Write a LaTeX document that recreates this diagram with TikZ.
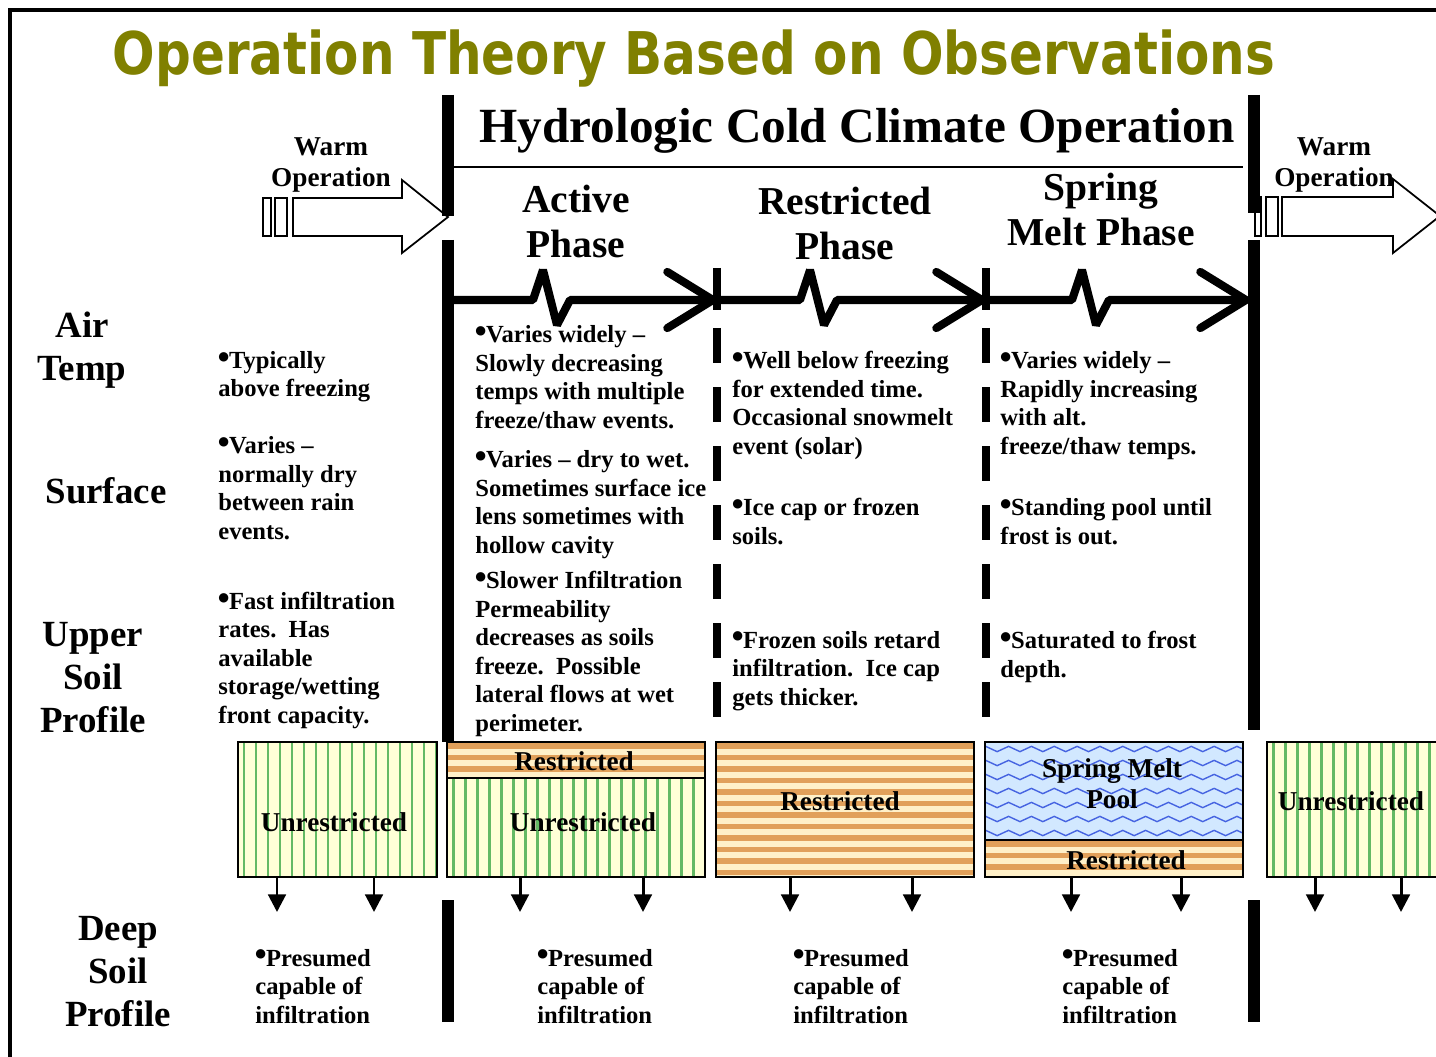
\documentclass[tikz,border=0pt]{standalone}
\usepackage{fontspec}
\setmainfont{Liberation Serif}
\newfontfamily\titlefont{DejaVu Sans}[FakeStretch=0.85]
\newfontfamily\symfont{DejaVu Sans}
\usetikzlibrary{arrows.meta,decorations.pathmorphing}

\definecolor{olivetitle}{RGB}{128,128,0}
\definecolor{soilyellow}{RGB}{255,255,215}
\definecolor{stripegreen}{RGB}{100,185,100}
\definecolor{soilcream}{RGB}{255,240,200}
\definecolor{soiltan}{RGB}{225,160,90}
\definecolor{poolblue}{RGB}{210,232,255}
\definecolor{waveblue}{RGB}{70,100,225}

\newcommand{\bul}{\raisebox{0.33em}{\symfont\fontsize{7}{7}\selectfont ●}}

% soil boxes: x1, y1, x2, y2 (pixels, y down)
\newcommand{\unrestrfill}[4]{%
  \fill[soilyellow] (#1,#2) rectangle (#3,#4);
  \begin{scope}
    \clip (#1,#2) rectangle (#3,#4);
    \foreach \sx in {6,18,...,300}
      \draw[stripegreen, line width=1.7pt] ({#1+\sx},#2) -- ({#1+\sx},#4);
  \end{scope}
  \draw[boxline] (#1,#2) rectangle (#3,#4);}
\newcommand{\restrfill}[4]{%
  \fill[soilcream] (#1,#2) rectangle (#3,#4);
  \begin{scope}
    \clip (#1,#2) rectangle (#3,#4);
    \foreach \sy in {4,15.5,...,200}
      \draw[soiltan, line width=3pt] (#1,{#2+\sy}) -- (#3,{#2+\sy});
  \end{scope}
  \draw[boxline] (#1,#2) rectangle (#3,#4);}
\newcommand{\poolfill}[4]{%
  \fill[poolblue] (#1,#2) rectangle (#3,#4);
  \begin{scope}
    \clip (#1,#2) rectangle (#3,#4);
    \foreach \sy in {7,21,...,120}
      \draw[waveblue, line width=0.8pt, decorate,
            decoration={zigzag, segment length=13pt, amplitude=1.5pt}]
        ({#1-5},{#2+\sy}) -- ({#3+5},{#2+\sy});
  \end{scope}
  \draw[boxline] (#1,#2) rectangle (#3,#4);}

\begin{document}
\begin{tikzpicture}[x=0.02cm, y=-0.02cm,
  phasebar/.style={line width=6.8pt},
  sepdash/.style={line width=4.6pt},
  phase/.style={line width=4.6pt, line join=bevel,
    -{Straight Barb[length=26pt, width=32pt, round]}},
  hollow/.style={draw, fill=white, line width=1pt},
  boxline/.style={draw, line width=1.2pt},
  drop/.style={line width=1.7pt, -{Triangle[length=10pt, width=10pt]}},
  celltext/.style={anchor=base west, align=left, inner sep=0pt,
    font=\fontsize{14}{16.2}\selectfont\bfseries},
  rowlabel/.style={anchor=base, align=center, inner sep=0pt,
    font=\fontsize{21}{24.2}\selectfont\bfseries},
  phasetitle/.style={anchor=base, align=center, inner sep=0pt,
    font=\fontsize{22.5}{26}\selectfont\bfseries},
  warmtext/.style={anchor=base, align=center, inner sep=0pt,
    font=\fontsize{15.5}{18.2}\selectfont\bfseries},
  boxtext/.style={anchor=base, align=center, inner sep=0pt,
    font=\fontsize{15.5}{17.6}\selectfont\bfseries}]
  \clip (0,0) rectangle (1436,1057);
  \fill[white] (0,0) rectangle (1436,1057);
  % frame
  \draw[line width=2.3pt] (10,1080) -- (10,10) -- (1460,10);
  % titles (multi-line nodes sit on the baseline of their last line)
  \node[anchor=base, inner sep=0pt, text=olivetitle,
    font=\titlefont\bfseries\fontsize{33.5}{36}\selectfont] (title) at (694,75)
    {Operation Theory Based on Observations};
  \node[anchor=base, inner sep=0pt, font=\fontsize{28}{32}\selectfont\bfseries]
    (hydro) at (857,143) {Hydrologic Cold Climate Operation};
  \draw[line width=1.3pt] (454,167) -- (1243,167);
  \node[phasetitle] (activeph) at (576,258) {Active\\Phase};
  \node[phasetitle] (restrph) at (845,260) {Restricted\\Phase};
  \node[phasetitle] (springph) at (1101,246) {Spring\\Melt Phase};
  % warm operation arrows
  \draw[hollow] (293,198) -- (402,198) -- (402,180) -- (448,217) -- (402,253)
    -- (402,236) -- (293,236) -- cycle;
  \draw[hollow] (263,198) rectangle (271,236);
  \draw[hollow] (275,198) rectangle (287,236);
  \draw[hollow] (1282,197) -- (1393,197) -- (1393,179) -- (1440,216) -- (1393,253)
    -- (1393,236) -- (1282,236) -- cycle;
  \draw[hollow] (1255,197) rectangle (1261,236);
  \draw[hollow] (1266,197) rectangle (1278,236);
  \node[warmtext] (warmin) at (331,187) {Warm\\Operation};
  \node[warmtext] (warmout) at (1334,187) {Warm\\Operation};
  % season bars
  \draw[phasebar] (448,95) -- (448,216);
  \draw[phasebar] (448,240) -- (448,742);
  \draw[phasebar] (448,900) -- (448,1022);
  \draw[phasebar] (1254,95) -- (1254,213);
  \draw[phasebar] (1254,240) -- (1254,730);
  \draw[phasebar] (1254,900) -- (1254,1022);
  % phase separators
  \foreach \sx in {717,986}{
    \draw[sepdash] (\sx,268) -- (\sx,310);
    \foreach \sy in {328,387,...,683}
      \draw[sepdash] (\sx,\sy) -- (\sx,{\sy+35});
  }
  % phase arrows
  \coordinate (t0) at (454,300);
  \coordinate (t1) at (717,300);
  \coordinate (t2) at (986,300);
  \coordinate (t3) at (1250,300);
  \draw[phase] (t0) -- ++(79,0) -- ++(10,-30) -- ++(14,55) -- ++(13,-25) -- (t1);
  \draw[phase] (t1) -- ++(83,0) -- ++(10,-30) -- ++(14,55) -- ++(13,-25) -- (t2);
  \draw[phase] (t2) -- ++(86,0) -- ++(10,-30) -- ++(14,55) -- ++(13,-25) -- (t3);
  % row labels
  \node[rowlabel] (airtemp) at (82,380) {Air\\Temp};
  \node[rowlabel] (surface) at (106,503) {Surface};
  \node[rowlabel] (uppersoil) at (93,732) {Upper\\Soil\\Profile};
  \node[rowlabel] (deepsoil) at (118,1026) {Deep\\Soil\\Profile};
  % warm column
  \node[celltext] (warmair) at (218,397) {\bul Typically\\above freezing};
  \node[celltext] (warmsurf) at (218,539) {\bul Varies –\\normally dry\\between rain\\events.};
  \node[celltext] (warmsoil) at (218,723)
    {\bul Fast infiltration\\rates.\ \ Has\\available\\storage/wetting\\front capacity.};
  % active phase column
  \node[celltext] (activeair) at (475,428)
    {\bul Varies widely –\\Slowly decreasing\\temps with multiple\\freeze/thaw events.};
  \node[celltext] (activesurf) at (475,553)
    {\bul Varies – dry to wet.\\Sometimes surface ice\\lens sometimes with\\hollow cavity};
  \node[celltext] (activesoil) at (475,731)
    {\bul Slower Infiltration\\Permeability\\decreases as soils\\freeze.\ \ Possible\\lateral flows at wet\\perimeter.};
  % restricted phase column
  \node[celltext] (restrair) at (732,454)
    {\bul Well below freezing\\for extended time.\\Occasional snowmelt\\event (solar)};
  \node[celltext] (restrsurf) at (732,544) {\bul Ice cap or frozen\\soils.};
  \node[celltext] (restrsoil) at (732,705)
    {\bul Frozen soils retard\\infiltration.\ \ Ice cap\\gets thicker.};
  % spring melt column
  \node[celltext] (springair) at (1000,454)
    {\bul Varies widely –\\Rapidly increasing\\with alt.\\freeze/thaw temps.};
  \node[celltext] (springsurf) at (1000,544) {\bul Standing pool until\\frost is out.};
  \node[celltext] (springsoil) at (1000,677) {\bul Saturated to frost\\depth.};
  % soil boxes
  \unrestrfill{238}{742}{437}{877}
  \restrfill{447}{742}{705}{778}
  \unrestrfill{447}{778}{705}{877}
  \restrfill{716}{742}{974}{877}
  \poolfill{985}{742}{1243}{840}
  \restrfill{985}{840}{1243}{877}
  \unrestrfill{1267}{742}{1460}{877}
  \node[boxtext] (ub1) at (334,831) {Unrestricted};
  \node[boxtext] (rb2) at (574,770) {Restricted};
  \node[boxtext] (ub2) at (583,831) {Unrestricted};
  \node[boxtext] (rb3) at (840,810) {Restricted};
  \node[boxtext] (pool4) at (1112,808) {Spring Melt\\Pool};
  \node[boxtext] (rb4) at (1126,869) {Restricted};
  \node[boxtext] (ub5) at (1351,810) {Unrestricted};
  % drainage arrows
  \foreach \i/\x in {1/277,2/374,3/520,4/643,5/790,6/912,7/1071,8/1181,9/1315,10/1401}{
    \coordinate (s\i) at (\x,877);
    \coordinate (d\i) at (\x,912);
    \draw[drop] (s\i) -- (d\i);
  }
  % deep soil
  \foreach \i/\x in {1/255,2/537,3/793,4/1062}
    \node[celltext] (deep\i) at (\x,1023) {\bul Presumed\\capable of\\infiltration};
\end{tikzpicture}
\end{document}
